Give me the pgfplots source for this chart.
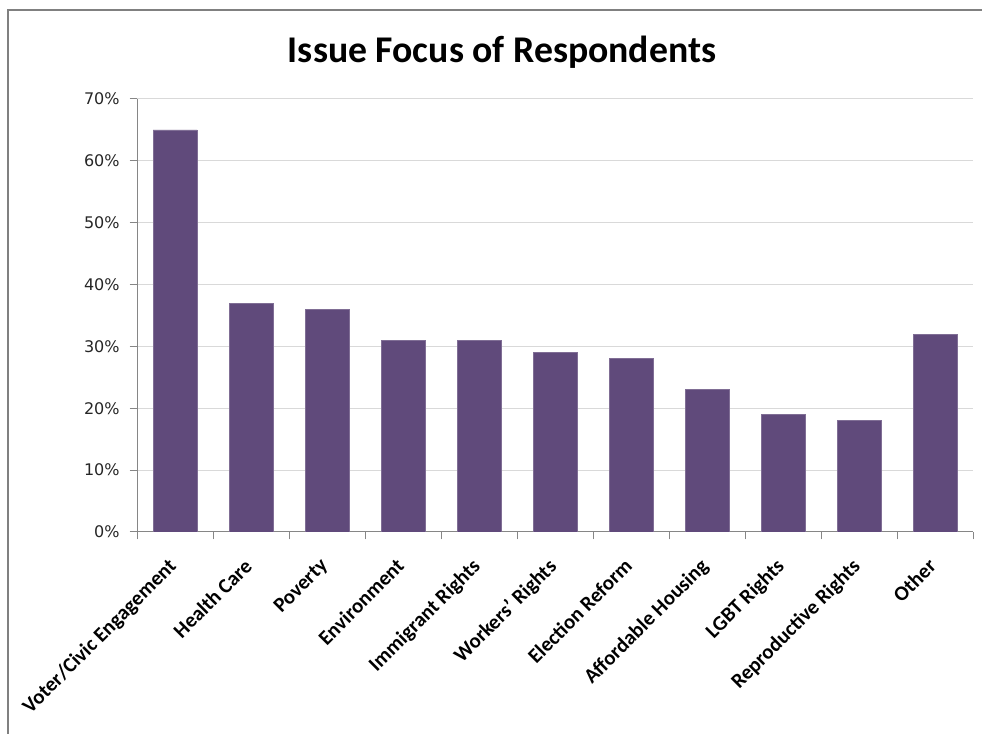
\documentclass[border=0pt]{standalone}
\usepackage{pgfplots}
\pgfplotsset{compat=1.18}
\usepackage{fontspec}
\setmainfont{Carlito}
\newfontfamily\tickfont{DejaVu Sans}
\definecolor{barpurple}{RGB}{96,74,123}
\definecolor{gridgray}{RGB}{217,217,217}
\definecolor{axisgray}{RGB}{134,134,134}
\definecolor{framegray}{RGB}{128,128,128}
\begin{document}
\begin{tikzpicture}
\useasboundingbox (0,0) rectangle (736.5pt,550.5pt);
\draw[framegray,line width=1.5pt] (6pt,0) -- (6pt,543pt) -- (736.5pt,543pt);
\node[font=\fontsize{28.3}{31}\selectfont\bfseries] at (376.5pt,511.5pt) {Issue Focus of Respondents};
\begin{axis}[
  at={(102.75pt,151.5pt)}, anchor=south west,
  scale only axis, width=627pt, height=324.75pt,
  ymin=0, ymax=70, xmin=-0.5, xmax=10.5,
  ybar, bar width=33pt,
  ytick={0,10,...,70},
  yticklabel={\pgfmathprintnumber{\tick}\%},
  yticklabel style={font=\tickfont\fontsize{12}{14}\selectfont, text=black!85, xshift=-4pt},
  /pgf/number format/assume math mode=true,
  xtick={-0.5,0.5,...,10.5},
  xticklabels={},
  extra x ticks={0,1,2,3,4,5,6,7,8,9,10},
  extra x tick labels={Voter/Civic Engagement,Health Care,Poverty,Environment,Immigrant Rights,Workers' Rights,Election Reform,Affordable Housing,LGBT Rights,Reproductive Rights,Other},
  extra x tick style={major tick length=0pt, xticklabel style={rotate=45, anchor=north east, font=\fontsize{15.6}{17}\selectfont\bfseries, inner sep=1pt, yshift=-8pt, xshift=-16.5pt}},
  ymajorgrids, major grid style={gridgray, line width=0.75pt},
  axis x line*=bottom, axis y line*=left,
  axis line style={axisgray, line width=0.75pt},
  tick style={axisgray, line width=0.75pt},
  major tick length=5.5pt,
  tick pos=left,
  xtick align=outside, ytick align=outside,
  separate axis lines,
  x axis line style={-}, y axis line style={-},
]
\addplot[fill=barpurple, draw=barpurple!80!white, line width=0.5pt] coordinates {
(0,65) (1,37) (2,36) (3,31) (4,31) (5,29) (6,28) (7,23) (8,19) (9,18) (10,32)};
\end{axis}
\end{tikzpicture}
\end{document}
